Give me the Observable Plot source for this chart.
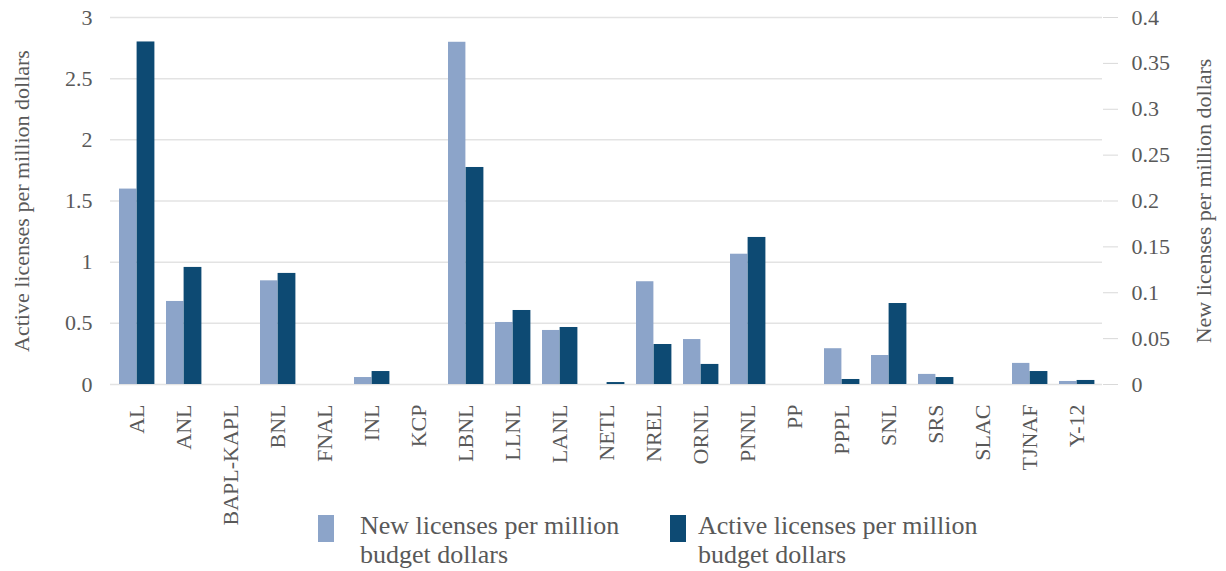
<!DOCTYPE html>
<html>
<head>
<meta charset="utf-8">
<script src="https://cdn.jsdelivr.net/npm/d3@7"></script>
<script src="https://cdn.jsdelivr.net/npm/@observablehq/plot@0.6"></script>
<style>
  html, body { margin: 0; padding: 0; background: #fff; }
  #wrap { position: relative; width: 1226px; height: 571px; font-family: "Liberation Serif", serif; color: #595959; }
  #wrap svg, #wrap svg text { font-family: "Liberation Serif", serif !important; }
  .leg { position: absolute; top: 511px; font-size: 26px; line-height: 29px; color: #595959; }
  .sw { position: absolute; width: 16px; height: 27px; }
</style>
</head>
<body>
<div id="wrap"></div>
<script>
const labs = ["AL","ANL","BAPL-KAPL","BNL","FNAL","INL","KCP","LBNL","LLNL","LANL","NETL","NREL","ORNL","PNNL","PP","PPPL","SNL","SRS","SLAC","TJNAF","Y-12"];
// right axis series
const newLicenses = [0.213,0.0905,0,0.113,0,0.0076,0,0.373,0.0676,0.0589,0,0.112,0.049,0.142,0,0.039,0.0316,0.011,0,0.023,0.0033];
// left axis series
const activeLicenses = [2.80,0.957,0,0.908,0,0.106,0,1.774,0.605,0.466,0.016,0.327,0.164,1.202,0,0.041,0.662,0.057,0,0.106,0.033];
const leftTicks = [0,0.5,1,1.5,2,2.5,3];
const rightTicks = [0,0.05,0.1,0.15,0.2,0.25,0.3,0.35,0.4];
const leftMax = 3, rightMax = 0.4;
const k = leftMax / rightMax;

const seriesNames = ["New licenses per million budget dollars", "Active licenses per million budget dollars"];
const colors = ["#8ca4c9", "#0d4a73"];

const newData = labs.map((l, i) => ({lab: l, v: newLicenses[i] * k}));
const actData = labs.map((l, i) => ({lab: l, v: activeLicenses[i]}));
const ff = "'Liberation Serif', serif";

const chart = Plot.plot({
  width: 1226,
  height: 571,
  marginLeft: 110,
  marginRight: 124,
  marginTop: 17,
  marginBottom: 187,
  style: {fontFamily: ff, fontSize: "20px", color: "#595959", background: "#fff"},
  x: {type: "band", domain: labs, padding: 0},
  y: {domain: [0, leftMax], label: null},
  marks: [
    Plot.ruleY(leftTicks, {stroke: "#e3e3e3", strokeWidth: 1.5}),
    Plot.barY(newData, {x: "lab", y: "v", fill: colors[0], insetLeft: 6, insetRight: 23.6}),
    Plot.barY(actData, {x: "lab", y: "v", fill: colors[1], insetLeft: 23.6, insetRight: 5.6}),
    Plot.axisY({ticks: leftTicks, tickSize: 0, tickPadding: 18, fontSize: 22, fontFamily: ff,
      tickFormat: d => String(d),
      label: "Active licenses per million dollars", labelAnchor: "center", labelArrow: "none", labelOffset: 97}),
    Plot.axisY(rightTicks.map(v => v * k), {anchor: "right", tickSize: 15, tickPadding: 14, stroke: "#d9d9d9", fontSize: 22, fontFamily: ff,
      tickFormat: d => String(+(d / k).toFixed(3)),
      label: "New licenses per million dollars", labelAnchor: "center", labelArrow: "none", labelOffset: 108}),
    Plot.axisX({tickRotate: -90, tickSize: 0, tickPadding: 20, fontSize: 22, fontFamily: ff, label: null})
  ]
});
const wrap = document.getElementById("wrap");
wrap.appendChild(chart);

const items = [{x: 318, tx: 360}, {x: 670, tx: 698}];
items.forEach((it, i) => {
  const sw = document.createElement("div");
  sw.className = "sw";
  sw.style.left = it.x + "px";
  sw.style.top = "515px";
  sw.style.background = colors[i];
  wrap.appendChild(sw);
  const t = document.createElement("div");
  t.className = "leg";
  t.style.left = it.tx + "px";
  const words = seriesNames[i].split(" ");
  t.innerHTML = words.slice(0, 4).join(" ") + "<br>" + words.slice(4).join(" ");
  wrap.appendChild(t);
});
</script>
</body>
</html>
